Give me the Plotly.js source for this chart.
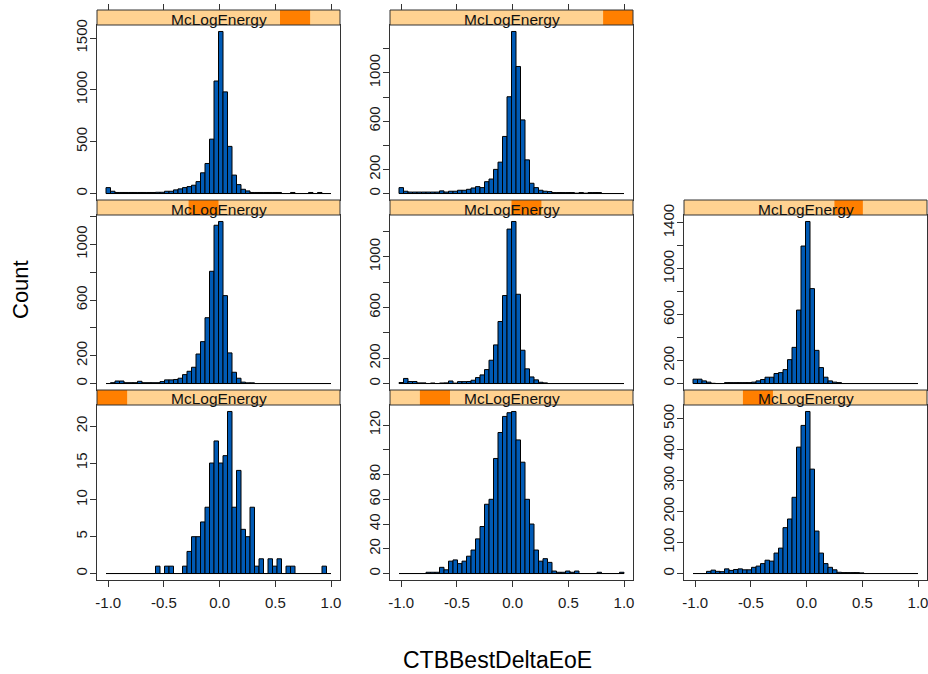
<!DOCTYPE html>
<html><head><meta charset="utf-8">
<script src="https://cdn.plot.ly/plotly-3.0.1.min.js"></script>
<style>html,body{margin:0;padding:0;background:#fff}#chart{width:928px;height:674px}</style>
</head><body><div id="chart"></div>
<script>
// ---- data ----
const breakStart = -1.02;
const breakEnd = 1.0;
const nBins = 50;
const stripLabel = 'McLogEnergy';
const xTitle = 'CTBBestDeltaEoE';
const yTitle = 'Count';
// shingle level ranges (fraction of full McLogEnergy range), panels in lattice order
const levelLo = [0, 0.123, 0.2425, 0.377, 0.5, 0.619, 0.753, 0.877];
const levelHi = [0.124, 0.247, 0.366, 0.5, 0.623, 0.736, 0.877, 1.0];

const counts1 = [0,0,0,0,0,0,0,0,0,0,0,1,0,1,1,0,0,1,3,5,5,7,9,15,18,15,16,22,9,14,6,5,9,1,2,0,2,1,2,0,1,1,0,0,0,0,0,0,1,0];
const counts2 = [0,0,0,0,0,0,1,1,1,5,3,10,11,8,10,14,19,28,38,56,60,93,114,127,130,131,108,90,60,40,19,10,12,9,2,1,1,2,1,2,0,0,0,0,1,0,0,0,0,1];
const counts3 = [0,0,0,7,11,7,6,15,10,13,15,12,12,20,24,32,43,40,66,82,148,176,246,408,478,523,337,137,66,32,20,12,4,3,3,3,3,2,0,0,0,0,0,0,0,0,0,0,0,0];
const counts4 = [0,6,18,18,6,6,6,16,6,6,6,6,14,26,26,29,38,64,88,117,212,301,473,807,1138,1165,632,220,81,38,10,5,5,0,0,0,0,0,0,0,0,0,0,0,0,0,0,0,0,0];
const counts5 = [8,40,16,16,5,5,0,4,0,4,5,20,3,15,15,16,26,47,68,110,184,305,490,695,1220,1280,705,263,116,52,29,10,5,0,0,0,0,0,0,0,0,0,0,0,0,0,0,0,0,0];
const counts6 = [38,38,23,12,2,0,0,8,8,8,8,8,8,12,23,35,55,55,87,95,121,208,315,640,1198,1412,827,289,139,55,23,12,8,0,0,0,0,0,0,0,0,0,0,0,0,0,0,0,0,0];
const counts7 = [57,22,10,10,10,10,10,10,10,10,10,12,12,22,22,35,45,57,67,80,115,200,290,525,1086,1564,981,455,178,86,41,25,10,10,10,10,10,10,10,0,0,10,0,0,0,10,0,10,0,0];
const counts8 = [49,19,12,12,12,12,12,12,12,22,12,19,19,27,27,35,46,57,49,98,120,200,260,473,802,1343,1053,610,279,85,49,27,19,16,8,8,8,8,8,3,8,3,8,8,8,0,0,0,0,0];

const xTickVals = [-1, -0.5, 0, 0.5, 1];
const xTickText = ['-1.0', '-0.5', '0.0', '0.5', '1.0'];
const yTickVals1 = [0,5,10,15,20];        const yTickText1 = ['0','5','10','15','20'];
const yTickVals2 = [0,20,40,60,80,100,120]; const yTickText2 = ['0','20','40','60','80','','120'];
const yTickVals3 = [0,100,200,300,400,500]; const yTickText3 = ['0','100','200','300','400','500'];
const yTickVals4 = [0,200,400,600,800,1000,1200]; const yTickText4 = ['0','200','','600','','1000',''];
const yTickVals5 = [0,200,400,600,800,1000,1200]; const yTickText5 = ['0','200','','600','','1000',''];
const yTickVals6 = [0,200,400,600,800,1000,1200,1400]; const yTickText6 = ['0','200','','600','','1000','','1400'];
const yTickVals7 = [0,500,1000,1500];     const yTickText7 = ['0','500','1000','1500'];
const yTickVals8 = [0,200,400,600,800,1000,1200]; const yTickText8 = ['0','200','','600','','1000',''];

// ---- build ----
const allCounts = [counts1,counts2,counts3,counts4,counts5,counts6,counts7,counts8];
const allYTV = [yTickVals1,yTickVals2,yTickVals3,yTickVals4,yTickVals5,yTickVals6,yTickVals7,yTickVals8];
const allYTT = [yTickText1,yTickText2,yTickText3,yTickText4,yTickText5,yTickText6,yTickText7,yTickText8];

const W = 928, H = 674;
const colPx = [[97,340],[390,633],[684,927]];
const rowPx = [ {strip:[390,405], plot:[405,580]}, {strip:[200,215], plot:[215,390]}, {strip:[10,25], plot:[25,200]} ];
const binW = (breakEnd - breakStart) / nBins;
const centers = [];
for (let i = 0; i < nBins; i++) centers.push(breakStart + binW*(i+0.5));
const xPad = 0.04*(breakEnd - breakStart);
const xRange = [breakStart - xPad, breakEnd + xPad];

const FONT = 'Liberation Sans, Arial, sans-serif';
const LINE = '#333333';
const BAR = '#005AB5';
const traces = [];
const layout = {
  width: W, height: H, margin: {l:0,r:0,t:0,b:0}, showlegend: false,
  paper_bgcolor: '#ffffff', plot_bgcolor: '#ffffff', hovermode: false,
  font: {family: FONT, color: '#1a1a1a'},
  shapes: [], annotations: []
};

for (let p = 0; p < 8; p++) {
  const col = p % 3, row = Math.floor(p / 3);
  const sfx = p === 0 ? '' : String(p+1);
  const xa = 'x' + sfx, ya = 'y' + sfx;
  const c = allCounts[p];
  const mx = Math.max(...c);
  const xd = [colPx[col][0]/W, colPx[col][1]/W];
  const pr = rowPx[row].plot, sr = rowPx[row].strip;
  const yd = [1 - pr[1]/H, 1 - pr[0]/H];
  traces.push({type:'scatter', mode:'lines', x:[breakStart, breakEnd], y:[0,0],
    line:{color:'#000', width:1}, xaxis: xa, yaxis: ya, hoverinfo:'skip'});
  traces.push({type:'bar', x: centers, y: c, width: binW, xaxis: xa, yaxis: ya,
    marker:{color: BAR, line:{color:'#000', width:1}}});
  const bottom = row === 0;
  layout['xaxis'+sfx] = {domain: xd, range: xRange, anchor: ya, showgrid:false, zeroline:false,
    showline:true, mirror:true, linecolor: LINE, linewidth:1,
    tickvals: xTickVals, ticktext: xTickText, ticks: bottom ? 'outside' : '', ticklen: 6, tickcolor: LINE,
    showticklabels: bottom, ticklabeloverflow: 'allow',
    tickfont:{size:15, family: FONT, color:'#1a1a1a'}, ticklabelstandoff: 3};
  layout['yaxis'+sfx] = {domain: yd, range: [-0.04*mx, 1.04*mx], anchor: xa, showgrid:false, zeroline:false,
    showline:true, mirror:true, linecolor: LINE, linewidth:1,
    tickvals: allYTV[p], ticktext: allYTT[p], ticks:'outside', ticklen:6, tickcolor: LINE,
    ticklabeloverflow: 'allow',
    tickangle: -90, tickfont:{size:15, family: FONT, color:'#1a1a1a'}, ticklabelstandoff: -3};
  // strip
  const sy0 = 1 - sr[1]/H, sy1 = 1 - sr[0]/H;
  const lo = xd[0] + levelLo[p]*(xd[1]-xd[0]);
  const hi = xd[0] + levelHi[p]*(xd[1]-xd[0]);
  layout.shapes.push({type:'rect', xref:'paper', yref:'paper', x0:xd[0], x1:xd[1], y0:sy0, y1:sy1,
    fillcolor:'#FFD291', line:{width:0}, layer:'above'});
  layout.shapes.push({type:'rect', xref:'paper', yref:'paper', x0:lo, x1:hi, y0:sy0, y1:sy1,
    fillcolor:'#FF7F00', line:{width:0}, layer:'above'});
  layout.shapes.push({type:'rect', xref:'paper', yref:'paper', x0:xd[0], x1:xd[1], y0:sy0, y1:sy1,
    fillcolor:'rgba(0,0,0,0)', line:{color: LINE, width:1}, layer:'above'});
  layout.annotations.push({text: stripLabel, xref:'paper', yref:'paper', x:(xd[0]+xd[1])/2,
    y: (sy0+sy1)/2 - 1.5/H, xanchor:'center', yanchor:'middle', showarrow:false,
    font:{size:15.5, family: FONT, color:'#111'}});
}
// top tick marks above strips of top row
[[6,'9'],[7,'10']].forEach(([p, s]) => {
  const sfx = String(p+1);
  traces.push({type:'scatter', mode:'markers', x:[], y:[], xaxis:'x'+s, yaxis:'y'+sfx, hoverinfo:'skip'});
  layout['xaxis'+s] = {overlaying:'x'+sfx, anchor:'free', position: 1 - 10/H, side:'top', range: xRange,
    showgrid:false, zeroline:false, showline:false, tickvals: xTickVals, ticks:'outside', ticklen:6,
    tickcolor: LINE, showticklabels:false};
});
layout.annotations.push({text: yTitle, xref:'paper', yref:'paper', x: 20/W, y: 1 - 290/H,
  textangle: -90, showarrow:false, xanchor:'center', yanchor:'middle', font:{size:22, family: FONT, color:'#000'}});
layout.annotations.push({text: xTitle, xref:'paper', yref:'paper', x: 497.5/W, y: 1 - 660/H,
  showarrow:false, xanchor:'center', yanchor:'middle', font:{size:23, family: FONT, color:'#000'}});

Plotly.newPlot('chart', traces, layout, {staticPlot:true, displayModeBar:false});
</script>
</body></html>
